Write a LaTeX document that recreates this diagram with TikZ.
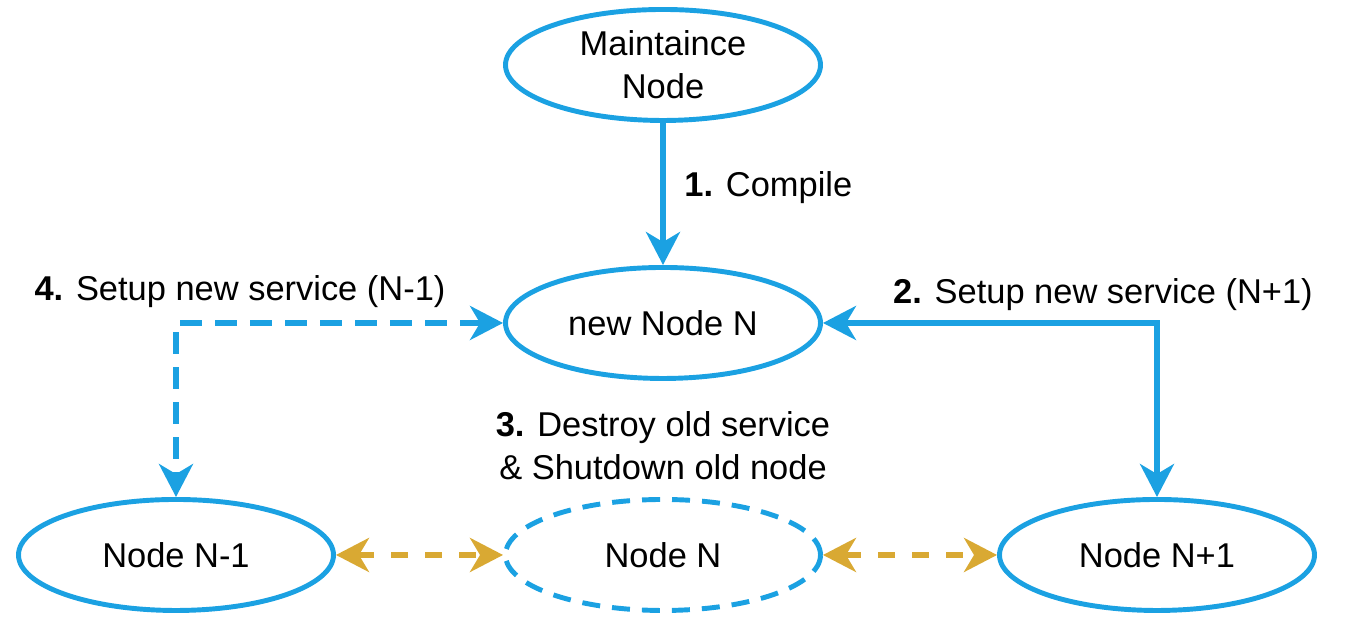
\documentclass[tikz,border=0pt]{standalone}
\usepackage{fontspec}
\setmainfont{Liberation Sans}
\usetikzlibrary{arrows.meta,shapes.geometric}
\definecolor{nodeblue}{HTML}{1BA1E2}
\definecolor{linkgold}{HTML}{D9A933}

\begin{document}
\begin{tikzpicture}[
    >={Stealth[length=3.3mm,width=3.4mm,inset=1mm]},
    every node/.style={font=\fontsize{9.8}{12.3}\selectfont},
    vm/.style={ellipse,draw=nodeblue,line width=1.4pt,minimum width=3.15cm,minimum height=1.11cm,align=center,inner sep=0pt},
    flow/.style={draw=nodeblue,line width=1.5pt},
    dashflow/.style={flow,dash pattern=on 2.2mm off 1.3mm},
    sync/.style={draw=linkgold,line width=1.5pt,dash pattern=on 1.7mm off 1.7mm}
]
    \useasboundingbox (0,0) rectangle (13.47,6.19);
    \node[vm] (maint) at (6.63,5.54) {Maintaince\\Node};
    \node[vm] (newN) at (6.63,2.96) {new Node N};
    \node[vm] (nm1) at (1.76,0.64) {Node N-1};
    \node[vm,dash pattern=on 1.8mm off 1.2mm] (oldN) at (6.63,0.64) {Node N};
    \node[vm] (np1) at (11.57,0.64) {Node N+1};

    \draw[flow,->] (maint) -- (newN);
    \draw[flow,<->] (newN.east) -| (np1.north);
    \draw[dashflow,<->] (newN.west) -| (nm1.north);
    \draw[sync,<->] (nm1) -- (oldN);
    \draw[sync,<->] (oldN) -- (np1);

    \node[anchor=west] (compile) at (6.72,4.31) {\textbf{1.} Compile};
    \node (setupR) at (11.03,3.24) {\textbf{2.} Setup new service (N+1)};
    \node[align=center] (destroy) at (6.63,1.73) {\textbf{3.} Destroy old service\\\& Shutdown old node};
    \node (setupL) at (2.40,3.27) {\textbf{4.} Setup new service (N-1)};
\end{tikzpicture}
\end{document}
